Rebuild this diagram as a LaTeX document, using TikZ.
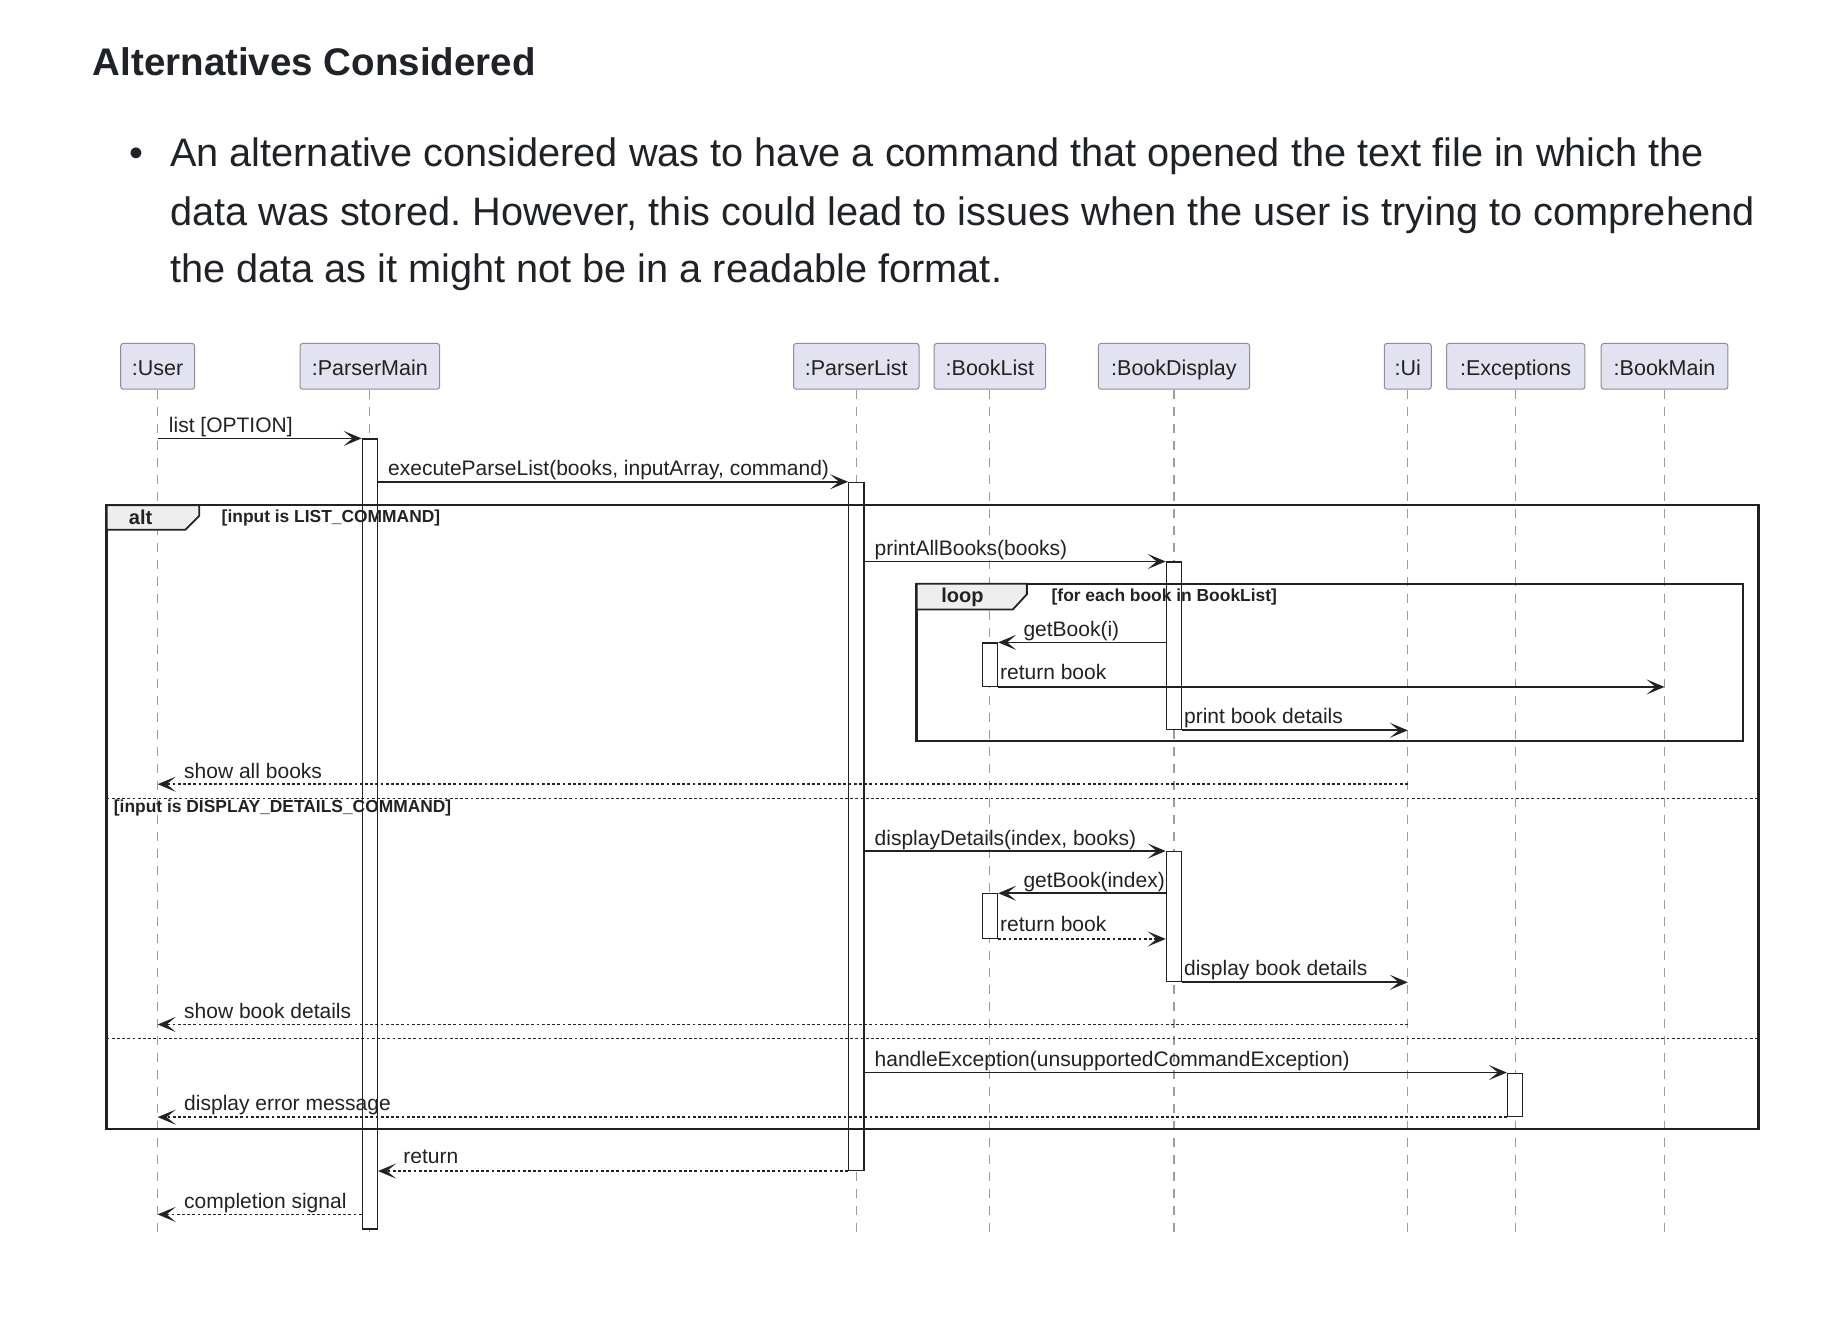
\documentclass[tikz,border=0pt]{standalone}
\usepackage{fontspec}
\setmainfont{Liberation Sans}
\usetikzlibrary{arrows.meta}
\definecolor{hdrfill}{HTML}{E2E2F0}
\definecolor{hdrdraw}{HTML}{8E8E96}
\definecolor{ink}{HTML}{1F2328}
\definecolor{dg}{HTML}{222222}
\definecolor{lifegray}{HTML}{9C9C9C}
\definecolor{tabfill}{HTML}{EEEEEE}
\def\U{1.17219pt}
\frenchspacing
\begin{document}
\begin{tikzpicture}[x=1.17219pt,y=-1.17219pt,
  para/.style={anchor=base west, inner sep=0pt, font=\fontsize{39.7}{40}\selectfont, text=ink},
  hdr/.style={draw=hdrdraw, fill=hdrfill, rounded corners=2.5pt, line width=1pt, inner sep=0pt,
              minimum height=39*\U, text height=18pt, text depth=0pt,
              font=\fontsize{21.5}{22}\selectfont, text=dg},
  life/.style={draw=lifegray, line width=1.1pt, dash pattern=on 9pt off 8pt},
  act/.style={draw=dg, fill=white, line width=1.2pt, inner sep=0pt, minimum width=13*\U, anchor=north},
  msg/.style={draw=dg, line width=1.7pt, -{Stealth[length=18pt,width=15pt,inset=9pt]}},
  ret/.style={msg, dash pattern=on 2.8pt off 2.4pt},
  lbl/.style={anchor=base west, inner sep=0pt, font=\fontsize{21}{21}\selectfont, text=dg},
  frm/.style={draw=dg, line width=2.4pt},
  tabshape/.style={fill=tabfill, draw=dg, line width=1.8pt, line join=miter},
  tabtxt/.style={inner sep=0pt, font=\bfseries\fontsize{20}{20}\selectfont, text=dg},
  guard/.style={inner sep=0pt, anchor=west, font=\bfseries\fontsize{17.4}{17.4}\selectfont, text=dg},
  sep/.style={draw=dg, line width=1.2pt, dash pattern=on 2.8pt off 2.4pt}
]
\useasboundingbox[fill=white] (0,0) rectangle (1568,1130.35);

% ---------- text above ----------
\node[anchor=base west, inner sep=0pt, font=\bfseries\fontsize{38.5}{40}\selectfont, text=ink] (title) at (79,64) {Alternatives Considered};
\node[anchor=base, inner sep=0pt, font=\fontsize{39.7}{40}\selectfont, text=ink] (bul) at (116,142) {\textbullet};
\node[para] (p1) at (145,142) {An alternative considered was to have a command that opened the text file in which the};
\node[para] (p2) at (145,192) {data was stored. However, this could lead to issues when the user is trying to comprehend};
\node[para] (p3) at (145,241) {the data as it might not be in a readable format.};

% ---------- participants ----------
\node[hdr, minimum width=63*\U]  (user)  at (134.5,312.5) {:User};
\node[hdr, minimum width=119*\U] (pmain) at (315.5,312.5) {:ParserMain};
\node[hdr, minimum width=107*\U] (plist) at (730.5,312.5) {:ParserList};
\node[hdr, minimum width=95*\U]  (blist) at (844.5,312.5) {:BookList};
\node[hdr, minimum width=129*\U] (bdisp) at (1001.5,312.5) {:BookDisplay};
\node[hdr, minimum width=40*\U]  (ui)    at (1201,312.5) {:Ui};
\node[hdr, minimum width=118*\U] (exc)   at (1293,312.5) {:Exceptions};
\node[hdr, minimum width=108*\U] (bmain) at (1420,312.5) {:BookMain};

% ---------- lifelines ----------
\coordinate (lifeEnd) at (0,1055);
\foreach \p in {user,pmain,plist,blist,bdisp,ui,exc,bmain}{
  \draw[life] (\p.south) -- (\p.south |- lifeEnd);
}

% ---------- activations ----------
\node[act, minimum height=674*\U] (pmA) at (315.5,374) {};
\node[act, minimum height=587*\U] (plA) at (730.5,411) {};
\node[act, minimum height=143*\U] (bd1) at (1001.5,479) {};
\node[act, minimum height=37*\U]  (bl1) at (844.5,548) {};
\node[act, minimum height=111*\U] (bd2) at (1001.5,726) {};
\node[act, minimum height=38*\U]  (bl2) at (844.5,762) {};
\node[act, minimum height=37*\U]  (exA) at (1292.5,915) {};

% ---------- alt frame ----------
\coordinate (altTL) at (91,431);
\coordinate (altBR) at (1500,963);
\draw[frm] (altTL) rectangle (altBR);
\draw[tabshape] (91,431) -- (170,431) -- (170,440) -- (158,452) -- (91,452) -- cycle;
\node[tabtxt] (altlbl) at (120,441.5) {alt};
\node[guard] (g1) at (189,441.5) {[input is LIST\_COMMAND]};
\coordinate (sep1) at (0,681);
\coordinate (sep2) at (0,886);
\draw[sep] (altTL |- sep1) -- (altBR |- sep1);
\draw[sep] (altTL |- sep2) -- (altBR |- sep2);
\node[guard] (g2) at (97,689.5) {[input is DISPLAY\_DETAILS\_COMMAND]};

% ---------- loop frame ----------
\coordinate (loopTL) at (782,498);
\coordinate (loopBR) at (1487,632);
\draw[frm] (loopTL) rectangle (loopBR);
\draw[tabshape] (782,498) -- (876,498) -- (876,507) -- (864,520) -- (782,520) -- cycle;
\node[tabtxt] (looplbl) at (821,509.5) {loop};
\node[guard] (g3) at (897,509.5) {[for each book in BookList]};

% ---------- messages ----------
\coordinate (m7) at (0,669);
\coordinate (m12) at (0,874);
\coordinate (m16) at (0,1036);

\draw[msg] (user.south |- pmA.north) -- (pmA.north west);
\node[lbl] (t1) at (144,369) {list [OPTION]};

\draw[msg] (pmA.east |- plA.north) -- (plA.north west);
\node[lbl] (t2) at (331,406) {executeParseList(books, inputArray, command)};

\draw[msg] (plA.east |- bd1.north) -- (bd1.north west);
\node[lbl] (t3) at (746,474) {printAllBooks(books)};

\draw[msg] (bd1.west |- bl1.north) -- (bl1.north east);
\node[lbl] (t4) at (873,543) {getBook(i)};

\draw[msg] (bl1.south east) -- (bmain.south |- bl1.south);
\node[lbl] (t5) at (853,580) {return book};

\draw[msg] (bd1.south east) -- (ui.south |- bd1.south);
\node[lbl] (t6) at (1010,617) {print book details};

\draw[ret] (ui.south |- m7) -- (user.south |- m7);
\node[lbl] (t7) at (157,664) {show all books};

\draw[msg] (plA.east |- bd2.north) -- (bd2.north west);
\node[lbl] (t8) at (746,721) {displayDetails(index, books)};

\draw[msg] (bd2.west |- bl2.north) -- (bl2.north east);
\node[lbl] (t9) at (873,757) {getBook(index)};

\draw[ret] (bl2.south east) -- (bd2.west |- bl2.south);
\node[lbl] (t10) at (853,795) {return book};

\draw[msg] (bd2.south east) -- (ui.south |- bd2.south);
\node[lbl] (t11) at (1010,832) {display book details};

\draw[ret] (ui.south |- m12) -- (user.south |- m12);
\node[lbl] (t12) at (157,869) {show book details};

\draw[msg] (plA.east |- exA.north) -- (exA.north west);
\node[lbl] (t13) at (746,910) {handleException(unsupportedCommandException)};

\draw[ret] (exA.south west) -- (user.south |- exA.south);
\node[lbl] (t14) at (157,947) {display error message};

\draw[ret] (plA.south west) -- (pmA.east |- plA.south);
\node[lbl] (t15) at (344,993) {return};

\draw[ret] (pmA.west |- m16) -- (user.south |- m16);
\node[lbl] (t16) at (157,1031) {completion signal};
\end{tikzpicture}
\end{document}
